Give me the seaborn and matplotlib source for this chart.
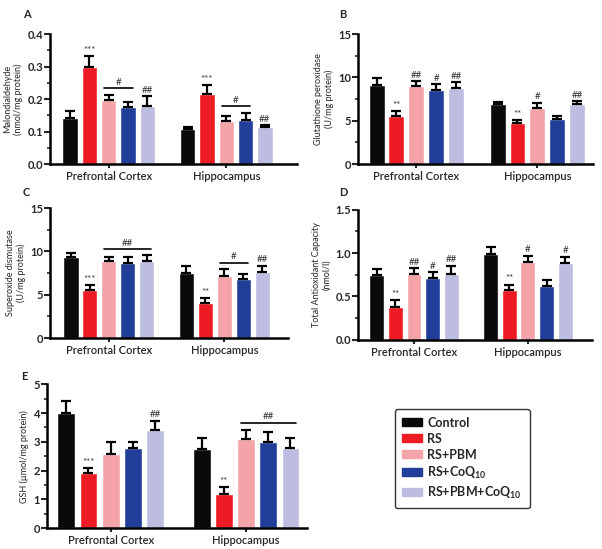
import numpy as np
import pandas as pd
import matplotlib
matplotlib.use('Agg')
import matplotlib.pyplot as plt
from matplotlib.ticker import MultipleLocator, AutoMinorLocator
from matplotlib.patches import Patch
import seaborn as sns

regions = ['Prefrontal Cortex', 'Hippocampus']
groups = ['Control', 'RS', 'RS+PBM', 'RS+CoQ10', 'RS+PBM+CoQ10']
legend_labels = ['Control', 'RS', 'RS+PBM', 'RS+CoQ$_{10}$', 'RS+PBM+CoQ$_{10}$']
colors = ['#0a0a0a', '#ed1c24', '#f4a3a8', '#213f99', '#bdbde2']

# A - malondialdehyde
mda_mean = [[0.143, 0.300, 0.197, 0.177, 0.178], [0.108, 0.215, 0.133, 0.136, 0.113]]
mda_err = [[0.019, 0.033, 0.017, 0.014, 0.031], [0.007, 0.027, 0.014, 0.022, 0.007]]
mda_marks = [['', '***', '', '', '##'], ['', '***', '', '', '##']]
mda_lines = [(0, 2, 3, '#'), (1, 2, 3, '#')]

# B - glutathione peroxidase
gpx_mean = [[9.15, 5.6, 9.0, 8.5, 8.8], [6.95, 4.7, 6.5, 5.2, 6.9]]
gpx_err = [[0.8, 0.5, 0.55, 0.75, 0.65], [0.27, 0.37, 0.58, 0.3, 0.35]]
gpx_marks = [['', '**', '##', '#', '##'], ['', '**', '#', '', '##']]
gpx_lines = []

# C - superoxide dismutase
sod_mean = [[9.35, 5.6, 8.85, 8.65, 8.85], [7.5, 4.05, 7.2, 6.85, 7.6]]
sod_err = [[0.5, 0.5, 0.55, 0.75, 0.7], [0.85, 0.57, 0.77, 0.55, 0.75]]
sod_marks = [['', '***', '', '', ''], ['', '**', '', '', '##']]
sod_lines = [(0, 2, 4, '##'), (1, 2, 3, '#')]

# D - total antioxidant capacity
tac_mean = [[0.75, 0.38, 0.76, 0.71, 0.76], [0.99, 0.58, 0.90, 0.615, 0.89]]
tac_err = [[0.07, 0.075, 0.07, 0.07, 0.095], [0.08, 0.057, 0.07, 0.07, 0.07]]
tac_marks = [['', '**', '##', '#', '##'], ['', '**', '#', '', '#']]
tac_lines = []

# E - GSH
gsh_mean = [[4.01, 1.9, 2.56, 2.79, 3.41], [2.74, 1.2, 3.09, 3.0, 2.78]]
gsh_err = [[0.41, 0.18, 0.44, 0.22, 0.32], [0.4, 0.22, 0.32, 0.35, 0.36]]
gsh_marks = [['', '***', '', '', '##'], ['', '**', '', '', '']]
gsh_lines = [(1, 2, 4, '##')]

sns.set_theme(style='ticks')
plt.rcParams['font.family'] = ['Lato', 'DejaVu Sans']
plt.rcParams['mathtext.default'] = 'regular'


def draw_panel(ax, mean, err, marks, lines, ylabel, ymax, step, xlim, fmt):
    rows = []
    for ri, r in enumerate(regions):
        for gi, g in enumerate(groups):
            rows.append({'region': r, 'group': g, 'value': mean[ri][gi]})
    df = pd.DataFrame(rows)
    sns.barplot(data=df, x='region', y='value', hue='group', order=regions,
                hue_order=groups, palette=colors, saturation=1, width=0.82,
                gap=0.2, errorbar=None, legend=False, ax=ax)
    pad = ymax * 0.01
    centers = {}
    bar_groups = list(ax.containers)
    for gi, cont in enumerate(bar_groups):
        for ri, bar in enumerate(cont):
            x = bar.get_x() + bar.get_width() / 2
            centers[(ri, gi)] = (x, bar.get_width())
            top = mean[ri][gi] + err[ri][gi]
            ax.errorbar(x, mean[ri][gi], yerr=[[0], [err[ri][gi]]], fmt='none',
                        ecolor='black', elinewidth=1.6, capsize=3.5, capthick=1.6)
            if marks[ri][gi]:
                ax.text(x, top + pad, marks[ri][gi], ha='center', va='bottom',
                        fontsize=7, color='#333333')
    for ri, g0, g1, txt in lines:
        y = max(mean[ri][g] + err[ri][g] for g in range(g0, g1 + 1)) + ymax * 0.05
        x0, w = centers[(ri, g0)]
        x1, _ = centers[(ri, g1)]
        ax.plot([x0 - 0.3 * w, x1 + 0.3 * w], [y, y], color='black', lw=1.2)
        ax.text((x0 + x1) / 2, y + pad, txt, ha='center', va='bottom', fontsize=7,
                color='#333333')
    ax.set_ylim(0, ymax)
    ax.set_xlim(*xlim)
    ax.yaxis.set_major_locator(MultipleLocator(step))
    ax.yaxis.set_minor_locator(AutoMinorLocator(2))
    ax.yaxis.set_major_formatter(plt.FormatStrFormatter(fmt))
    ax.set_xlabel('')
    ax.set_ylabel(ylabel, fontsize=6.5, labelpad=3)
    sns.despine(ax=ax)
    for s in ['left', 'bottom']:
        ax.spines[s].set_linewidth(1.8)
        ax.spines[s].set_color('black')
    ax.tick_params(axis='y', which='major', length=4, width=1.5, labelsize=8, pad=1)
    ax.tick_params(axis='y', which='minor', length=2.5, width=1.2)
    ax.tick_params(axis='x', length=3, width=1.5, labelsize=8, pad=2)
    for lab in ax.get_yticklabels():
        lab.set_fontweight('bold')
    for lab in ax.get_xticklabels():
        lab.set_fontweight('semibold')


fig = plt.figure(figsize=(6.02, 5.49), dpi=100)
axA = fig.add_axes([0.083, 0.701, 0.41, 0.237])
axB = fig.add_axes([0.595, 0.701, 0.39, 0.237])
axC = fig.add_axes([0.083, 0.384, 0.395, 0.237])
axD = fig.add_axes([0.595, 0.381, 0.388, 0.237])
axE = fig.add_axes([0.078, 0.038, 0.432, 0.262])

draw_panel(axA, mda_mean, mda_err, mda_marks, mda_lines,
           'Malondialdehyde\n(nmol/mg protein)', 0.4, 0.1, (-0.5, 1.6), '%.1f')
draw_panel(axB, gpx_mean, gpx_err, gpx_marks, gpx_lines,
           'Glutathione peroxidase\n(U/mg protein)', 15, 5, (-0.48, 1.46), '%d')
draw_panel(axC, sod_mean, sod_err, sod_marks, sod_lines,
           'Superoxide dismutase\n(U/mg protein)', 15, 5, (-0.51, 1.55), '%d')
draw_panel(axD, tac_mean, tac_err, tac_marks, tac_lines,
           'Total Antioxidant Capacity\n(nmol/l)', 1.5, 0.5, (-0.49, 1.56), '%.1f')
draw_panel(axE, gsh_mean, gsh_err, gsh_marks, gsh_lines,
           'GSH (µmol/mg protein)', 5, 1, (-0.47, 1.45), '%d')

for letter, (lx, ly) in zip('ABCDE', [(0.038, 0.973), (0.563, 0.973), (0.038, 0.65),
                                     (0.563, 0.65), (0.035, 0.315)]):
    fig.text(lx, ly, letter, fontsize=8, fontweight='bold', ha='left', va='center')

handles = [Patch(facecolor=c, edgecolor=c) for c in colors]
leg = fig.legend(handles, legend_labels, loc='upper left', bbox_to_anchor=(0.656, 0.255),
                 borderaxespad=0, frameon=True, fancybox=True, handlelength=1.55,
                 handleheight=0.55, handletextpad=0.45, labelspacing=0.32,
                 borderpad=0.6, prop={'weight': 'bold', 'size': 9})
leg.get_frame().set_edgecolor('black')
leg.get_frame().set_linewidth(1.0)

fig.savefig('out.png', dpi=100)
